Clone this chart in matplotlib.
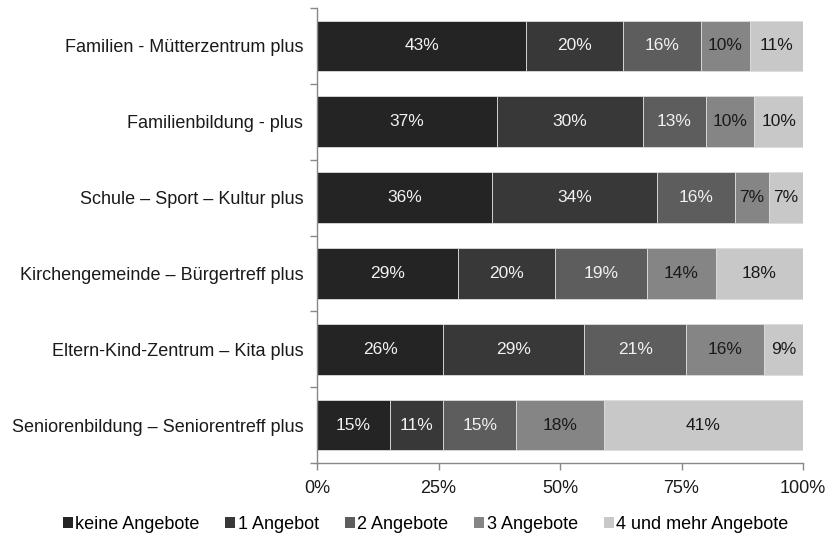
import matplotlib
matplotlib.use("Agg")
import matplotlib.pyplot as plt
from matplotlib.patches import Patch
import numpy as np

plt.rcParams['font.family'] = ['Liberation Sans', 'DejaVu Sans']

categories = [
    "Familien - Mütterzentrum plus",
    "Familienbildung - plus",
    "Schule – Sport – Kultur plus",
    "Kirchengemeinde – Bürgertreff plus",
    "Eltern-Kind-Zentrum – Kita plus",
    "Seniorenbildung – Seniorentreff plus",
]
series_names = ["keine Angebote", "1 Angebot", "2 Angebote", "3 Angebote",
                "4 und mehr Angebote"]
keine = [43, 37, 36, 29, 26, 15]
eins = [20, 30, 34, 20, 29, 11]
zwei = [16, 13, 16, 19, 21, 15]
drei = [10, 10, 7, 14, 16, 18]
vier = [11, 10, 7, 18, 9, 41]
x_ticks = [0, 25, 50, 75, 100]
x_ticklabels = ["0%", "25%", "50%", "75%", "100%"]

series = [keine, eins, zwei, drei, vier]
colors = ["#242424", "#383838", "#5d5d5d", "#858585", "#c8c8c8"]
text_colors = ["#f2f2f2", "#f2f2f2", "#f2f2f2", "#1a1a1a", "#1a1a1a"]

fig = plt.figure(figsize=(8.28, 5.37), dpi=100)
ax = fig.add_axes([0.3829, 0.1378, 0.9698 - 0.3829, 0.985 - 0.1378])

y = np.arange(len(categories))
left = np.zeros(len(categories))
for vals, col, tcol in zip(series, colors, text_colors):
    vals = np.array(vals, dtype=float)
    ax.barh(y, vals, left=left, height=0.67, color=col,
            edgecolor="#dcdcdc", linewidth=0.6)
    for yi, (l, v) in enumerate(zip(left, vals)):
        right = min(l + v, 100)
        ax.text((l + right) / 2, yi, f"{int(v)}%", ha="center", va="center",
                color=tcol, fontsize=12.5)
    left = left + vals

ax.set_xlim(0, 100)
ax.set_ylim(len(categories) - 0.5, -0.5)

ax.set_yticks(y)
ax.set_yticklabels(categories, fontsize=13, color="#1a1a1a")
ax.set_yticks(np.arange(len(categories) + 1) - 0.5, minor=True)
ax.tick_params(axis="y", which="major", length=0, pad=10)
ax.tick_params(axis="y", which="minor", length=5, color="#888888", width=1)

ax.set_xticks(x_ticks)
ax.set_xticklabels(x_ticklabels, fontsize=13, color="#1a1a1a")
ax.tick_params(axis="x", length=5, color="#888888", width=1, pad=7)

for s in ["top", "right"]:
    ax.spines[s].set_visible(False)
for s in ["left", "bottom"]:
    ax.spines[s].set_color("#888888")
    ax.spines[s].set_linewidth(1)

handles = [Patch(facecolor=c, edgecolor="none") for c in colors]
fig.legend(handles, series_names, loc="center", bbox_to_anchor=(0.514, 0.024),
           ncol=5, frameon=False, fontsize=13, handlelength=0.55,
           handleheight=0.55, handletextpad=0.15, columnspacing=1.42)

fig.savefig("out.png", dpi=100)
